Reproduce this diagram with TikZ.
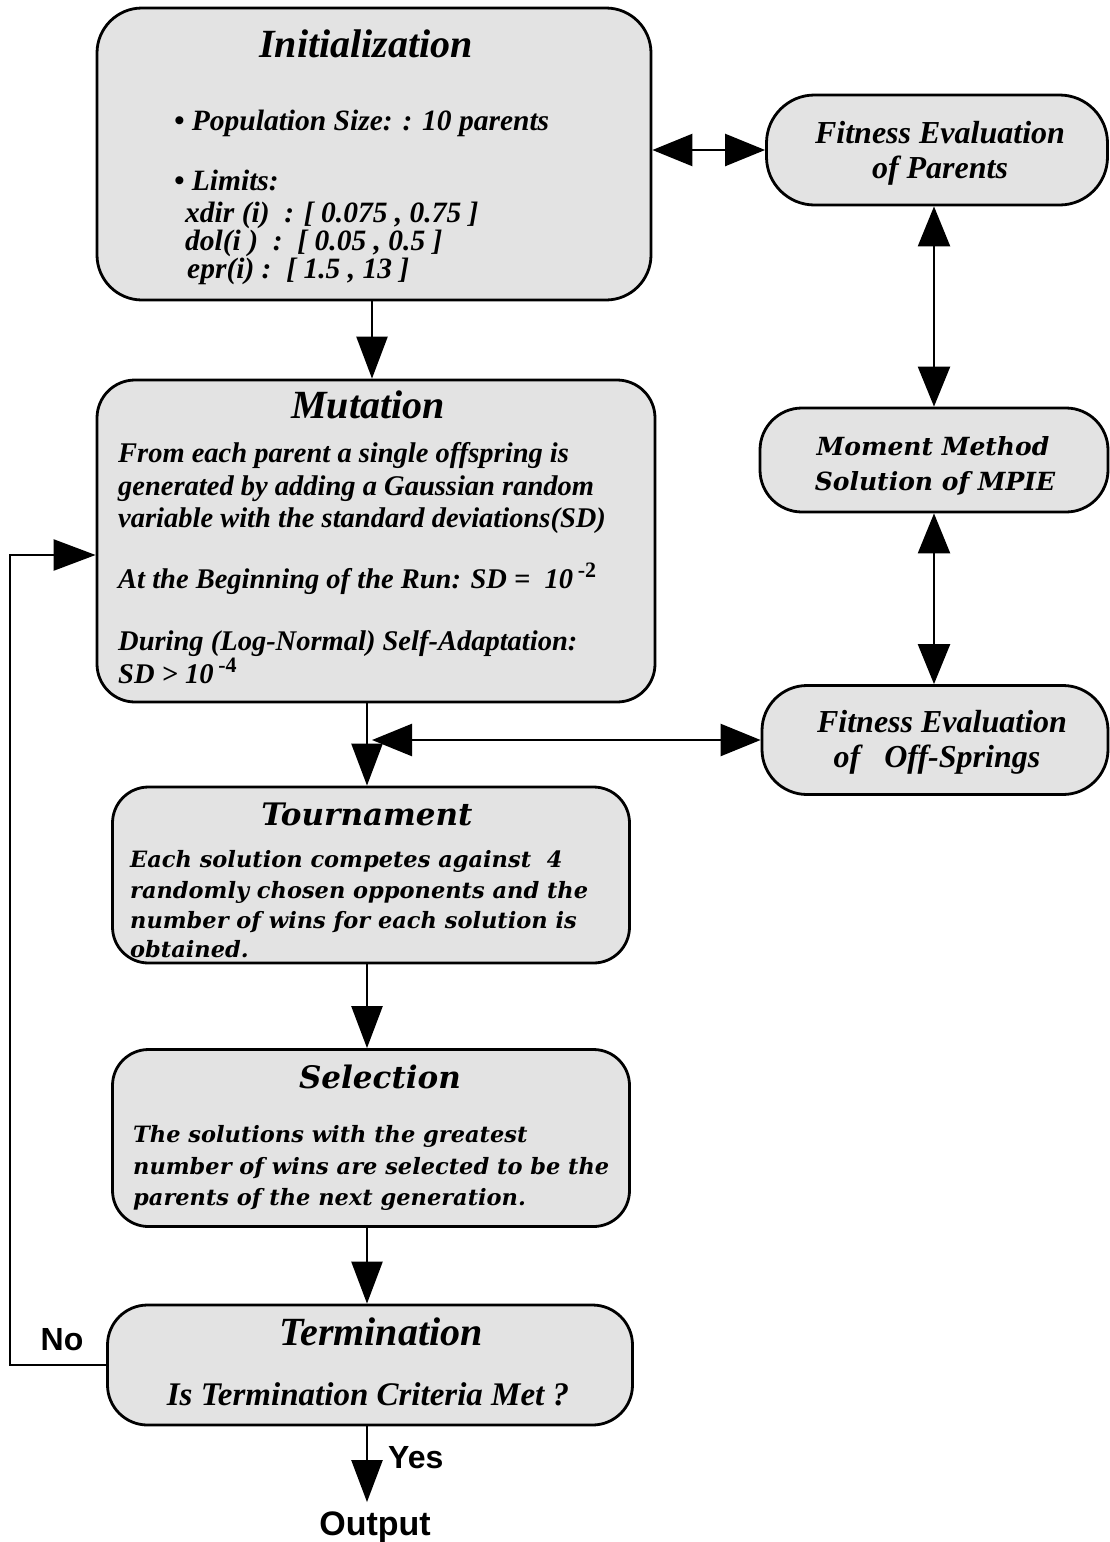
\documentclass[tikz,border=0pt]{standalone}
\usepackage{fontspec}
\setmainfont{Liberation Serif}
\newfontfamily\centfont{DejaVu Serif}
\newfontfamily\arialfont{Liberation Sans}
\usetikzlibrary{arrows.meta}
\newcommand\fsz[1]{\fontsize{#1}{#1}\selectfont}
\newcommand\supx[1]{\raisebox{0.38em}{\fsz{22}\bfseries\upshape #1}}
\begin{document}
\begin{tikzpicture}[x=1pt,y=-1pt,
  box/.style={draw=black, line width=2.8pt, fill=black!11, inner sep=0pt, rounded corners=#1},
  box/.default=40pt,
  arr/.style={line width=2.4pt, -{Triangle[length=42pt,width=31pt]}},
  dblarr/.style={line width=2.4pt, {Triangle[length=40pt,width=32pt]}-{Triangle[length=40pt,width=32pt]}},
  tl/.style={anchor=base west, inner sep=0pt},
  tc/.style={anchor=base, inner sep=0pt},
  ttl/.style={tc, font=\fsz{40}\bfseries\itshape},
  cttl/.style={tc, font=\centfont\fsz{31}\bfseries\itshape},
  initf/.style={font=\fsz{29.5}\bfseries\itshape},
  mutf/.style={font=\fsz{28.5}\bfseries\itshape},
  centf/.style={font=\centfont\fsz{22.5}\bfseries\itshape},
  fitf/.style={font=\fsz{32}\bfseries\itshape},
  momf/.style={font=\centfont\fsz{25}\bfseries\itshape},
  lab/.style={font=\arialfont\fsz{32}\bfseries, inner sep=0pt}
]
\useasboundingbox (0,0) rectangle (1110,1542);
\coordinate (sp) at (367,0);

% ---------- boxes ----------
\node[box=45pt, minimum width=554pt, minimum height=292pt] (init) at (374,154) {};
\node[box=48pt, minimum width=341pt, minimum height=110pt] (fitp) at (937,150) {};
\node[box=42pt, minimum width=348pt, minimum height=104pt] (mom) at (934,460) {};
\node[box=45pt, minimum width=346pt, minimum height=109pt] (fito) at (935,740) {};
\node[box=38pt, minimum width=558pt, minimum height=322pt] (mut) at (376,541) {};
\node[box=36pt, minimum width=517pt, minimum height=176pt] (tour) at (371,875) {};
\node[box=36pt, minimum width=517pt, minimum height=177pt] (sel) at (371,1138) {};
\node[box=40pt, minimum width=525pt, minimum height=120pt] (term) at (370,1365) {};

% ---------- Initialization ----------
\node[ttl] (initT) at (366,57) {Initialization};
\node[tl, initf] (i1) at (174,130) {\textbullet\ Population Size: : 10 parents};
\node[tl, initf] (i2) at (174,190) {\textbullet\ Limits:};
\node[tl, initf] (i3) at (185,222) {xdir (i)\ \ : [ 0.075 , 0.75 ]};
\node[tl, initf] (i4) at (185,250) {dol(i )\ \ :\ \ [ 0.05 , 0.5 ]};
\node[tl, initf] (i5) at (187,278) {epr(i) :\ \ [ 1.5 , 13 ]};

% ---------- right column ----------
\node[tc, fitf] (fp1) at (940,143) {Fitness Evaluation};
\node[tc, fitf] (fp2) at (940,178) {of Parents};
\node[tc, momf] (mo1) at (933,455) {Moment Method};
\node[tc, momf] (mo2) at (935,490) {Solution of MPIE};
\node[tc, fitf] (fo1) at (942,732) {Fitness Evaluation};
\node[tc, fitf] (fo2) at (937,767) {of\ \ \ Off-Springs};

% ---------- Mutation ----------
\node[ttl] (mutT) at (368,418) {Mutation};
\node[tl, mutf] (m1) at (118,462) {From each parent a single offspring is};
\node[tl, mutf] (m2) at (118,495) {generated by adding a Gaussian random};
\node[tl, mutf] (m3) at (118,527) {variable with the standard deviations(SD)};
\node[tl, mutf] (m4) at (118,588) {At the Beginning of the Run: SD =\ \ 10\,\supx{-2}};
\node[tl, mutf] (m5) at (118,650) {During (Log-Normal) Self-Adaptation:};
\node[tl, mutf] (m6) at (118,683) {SD > 10\,\supx{-4}};

% ---------- Tournament ----------
\node[cttl] (tourT) at (367,825) {Tournament};
\node[tl, centf] (t1) at (130,867) {Each solution competes against\ \ 4};
\node[tl, centf] (t2) at (130,898) {randomly chosen opponents and the};
\node[tl, centf] (t3) at (130,928) {number of wins for each solution is};
\node[tl, centf] (t4) at (130,957) {obtained.};

% ---------- Selection ----------
\node[cttl] (selT) at (380,1088) {Selection};
\node[tl, centf] (s1) at (133,1142) {The solutions with the greatest};
\node[tl, centf] (s2) at (133,1174) {number of wins are selected to be the};
\node[tl, centf] (s3) at (133,1205) {parents of the next generation.};

% ---------- Termination ----------
\node[ttl] (termT) at (381,1345) {Termination};
\node[tc, font=\fsz{33}\bfseries\itshape] (te1) at (368,1405) {Is Termination Criteria Met ?};

% ---------- labels ----------
\node[lab, anchor=base] (no) at (62,1350) {No};
\node[lab, anchor=base west] (yes) at (388,1468) {Yes};
\node[lab, anchor=base, font=\arialfont\fsz{34}\bfseries, inner sep=9pt] (out) at (375,1535) {Output};

% ---------- connectors ----------
\draw[arr] (init.south -| 372,0) -- (mut.north -| 372,0);
\draw[dblarr] (init.east |- fitp.west) -- (fitp.west);
\draw[dblarr] (mom.north |- fitp.south) -- (mom.north);
\draw[dblarr] (mom.south) -- (mom.south |- fito.north);
\draw[arr] (mut.south -| sp) -- (tour.north -| sp);
\coordinate (jn) at (372,740);
\draw[dblarr] (jn) -- (jn -| fito.west);
\draw[arr] (tour.south -| sp) -- (sel.north -| sp);
\draw[arr] (sel.south -| sp) -- (term.north -| sp);
\draw[arr] (term.south -| sp) -- (sp |- out.north);
\coordinate (lp) at (10,555);
\draw[arr] (term.west) -| (lp) -- (lp -| mut.west);
\end{tikzpicture}
\end{document}
